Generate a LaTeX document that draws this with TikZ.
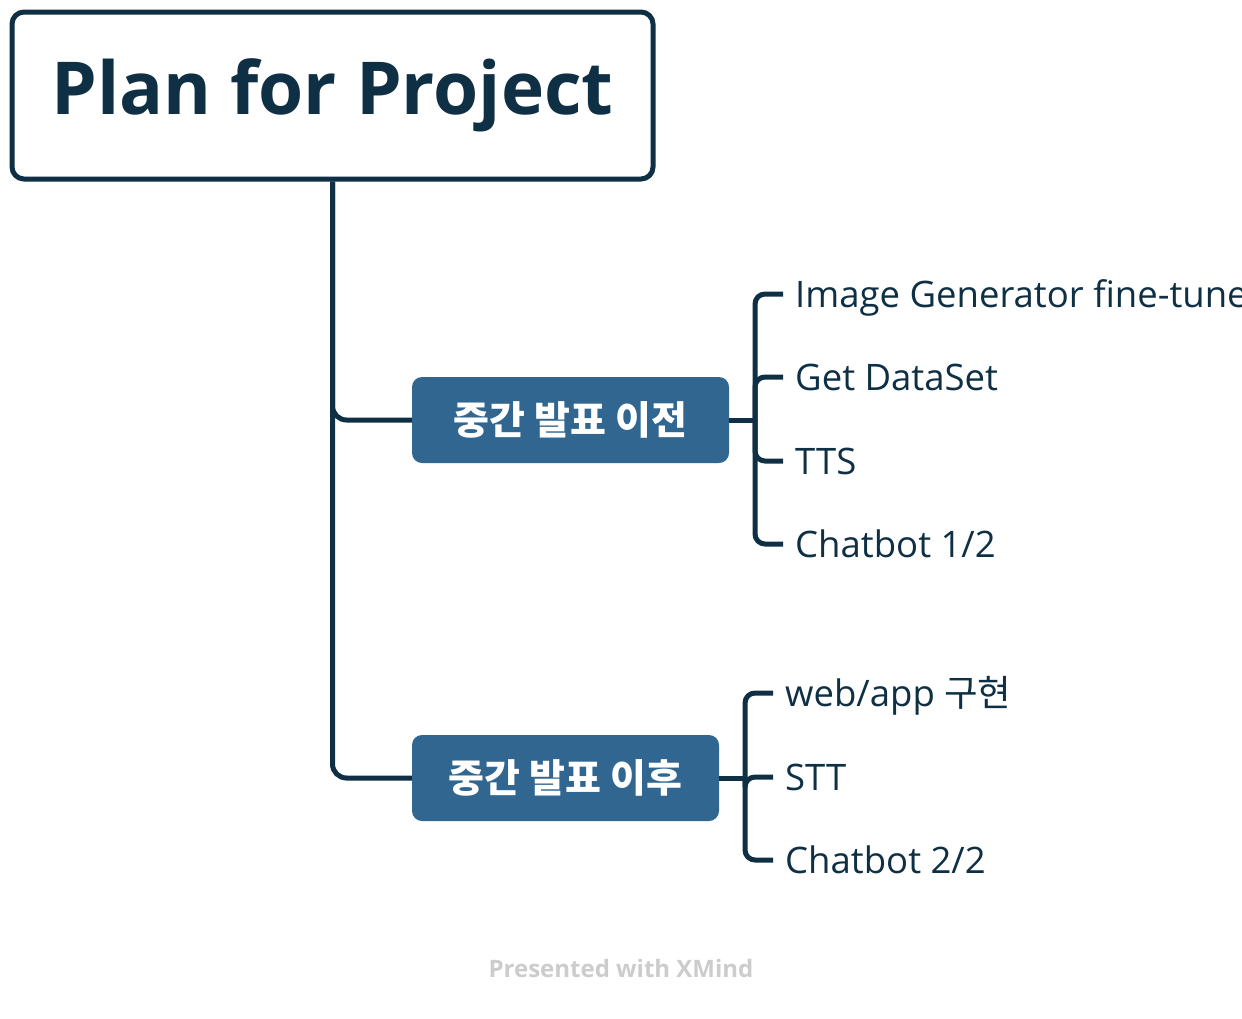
\documentclass[tikz,border=0pt]{standalone}
\usepackage{fontspec}
\setmainfont{Open Sans}
\newfontfamily\krfont{Noto Sans CJK KR}
\definecolor{navy}{HTML}{0E2F44}
\definecolor{mblue}{HTML}{306690}
\definecolor{footgray}{HTML}{CCCCCC}
\begin{document}
\begin{tikzpicture}[x=1pt,y=-1pt,
  conn/.style={draw=navy,line width=5pt},
  rootbox/.style={draw=navy,line width=5pt,rounded corners=12pt,fill=white,text=navy,
    font=\bfseries\fontsize{73}{80}\selectfont,minimum width=641pt,minimum height=167pt,inner sep=0pt},
  branchbox/.style={fill=mblue,rounded corners=10pt,text=white,
    font=\krfont\bfseries\fontsize{39}{44}\selectfont,minimum height=86pt,inner sep=0pt},
  leaf/.style={anchor=west,inner sep=0pt,text=navy,font=\fontsize{36.5}{42}\selectfont,
    text height=26pt,text depth=0pt},
  foot/.style={text=footgray,font=\bfseries\fontsize{24}{28}\selectfont}
]
\useasboundingbox (0,0) rectangle (1242,1018);
\clip (0,0) rectangle (1242,1018);

\coordinate (j1) at (755,420);
\coordinate (j2) at (745,778);

\node[rootbox] (root) at (332.5,95.5) {Plan for Project};
\node[branchbox,minimum width=317pt] (b1) at (570.5,420) {중간 발표 이전};
\node[branchbox,minimum width=307pt] (b2) at (565.5,778) {중간 발표 이후};

\node[leaf] (c1) at (795,294) {Image Generator fine-tune};
\node[leaf] (c2) at (795,377) {Get DataSet};
\node[leaf] (c3) at (795,461) {TTS};
\node[leaf] (c4) at (795,544) {Chatbot 1/2};

\node[leaf] (d1) at (785,693) {web/app {\krfont 구현}};
\node[leaf] (d2) at (785,777) {STT};
\node[leaf] (d3) at (785,860) {Chatbot 2/2};

\draw[conn,rounded corners=14pt] (root.south) |- (b1.west);
\draw[conn,rounded corners=14pt] (root.south) |- (b2.west);

\draw[conn] (b1.east) -- (j1);
\foreach \c in {c1,c2,c3,c4}
  \draw[conn,rounded corners=10pt] (j1) |- ([xshift=-12pt]\c.west);

\draw[conn] (b2.east) -- (j2);
\foreach \c in {d1,d2,d3}
  \draw[conn,rounded corners=10pt] (j2) |- ([xshift=-12pt]\c.west);

\node[foot] (ft) at (621,968) {Presented with XMind};
\end{tikzpicture}
\end{document}
